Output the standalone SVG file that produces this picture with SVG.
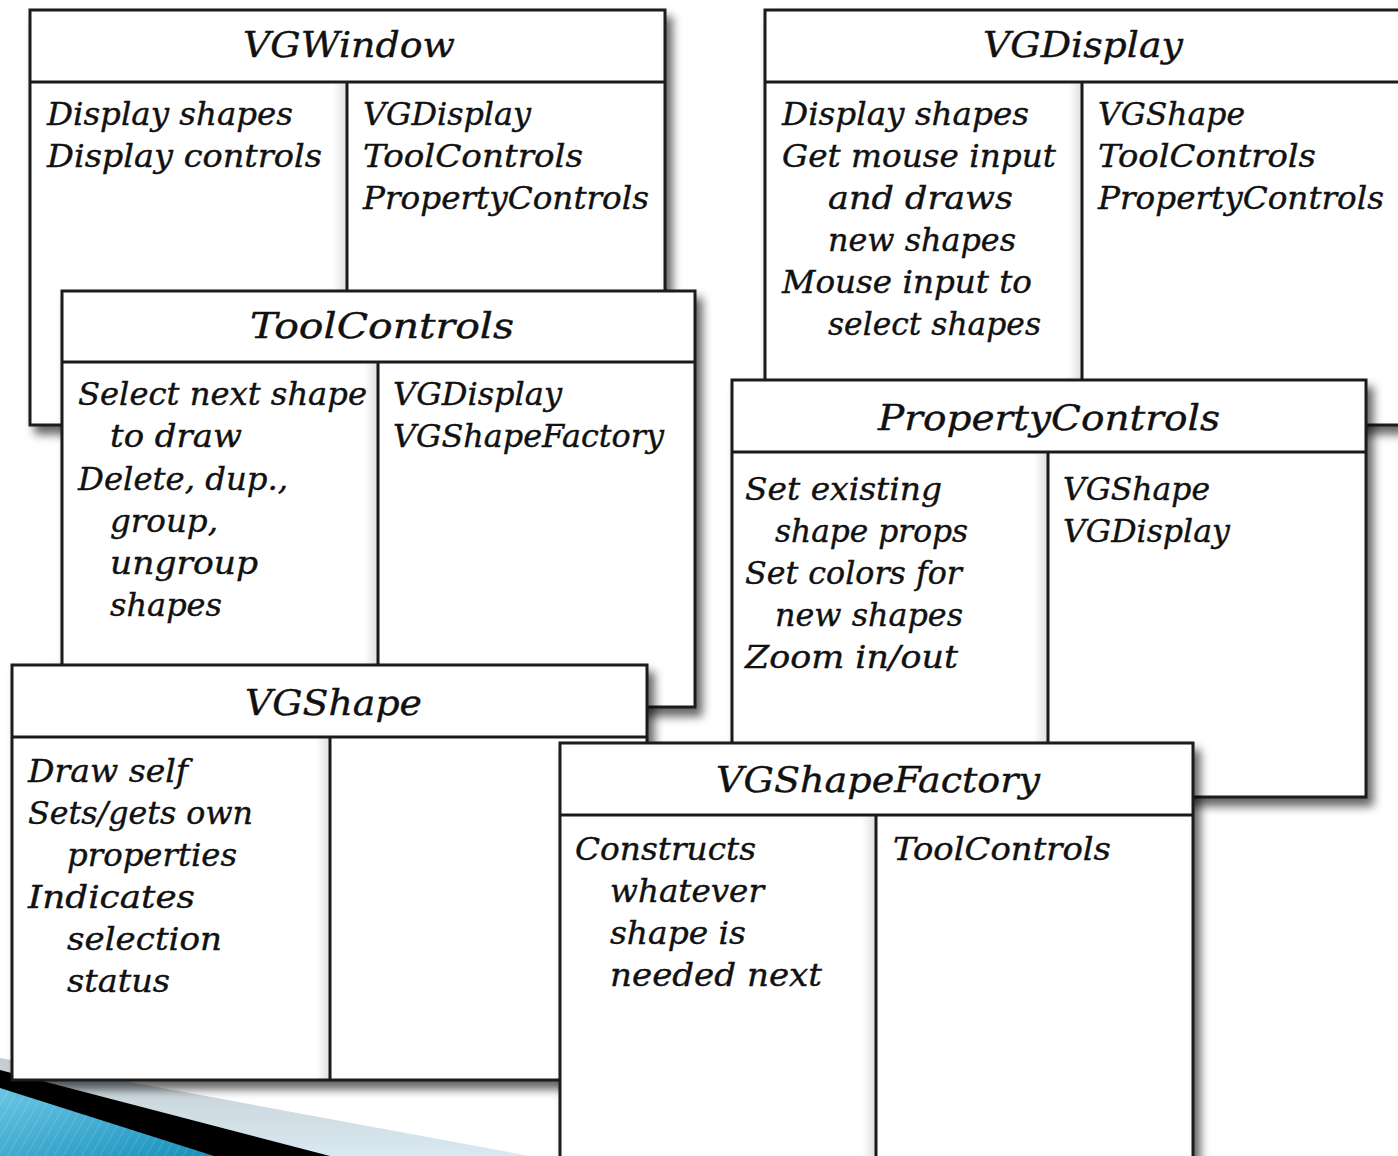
<svg xmlns="http://www.w3.org/2000/svg" width="1398" height="1156" viewBox="0 0 1398 1156">
<defs>
<filter id="sh" x="-5%" y="-5%" width="115%" height="115%">
<feDropShadow dx="6" dy="8" stdDeviation="5" flood-color="#000" flood-opacity="0.6"/>
</filter>
<linearGradient id="inner" x1="0" y1="0" x2="1" y2="0">
<stop offset="0" stop-color="#000" stop-opacity="0"/>
<stop offset="1" stop-color="#000" stop-opacity="0.13"/>
</linearGradient>
<linearGradient id="blue" x1="0" y1="0" x2="1" y2="1">
<stop offset="0" stop-color="#6cc6e4"/>
<stop offset="1" stop-color="#1690bb"/>
</linearGradient>
<linearGradient id="pale" x1="0" y1="0" x2="0" y2="1">
<stop offset="0" stop-color="#c3ccd1"/>
<stop offset="1" stop-color="#d9e9f1"/>
</linearGradient>
<pattern id="stripes" width="8" height="8" patternUnits="userSpaceOnUse" patternTransform="rotate(30)">
<line x1="0" y1="0" x2="0" y2="8" stroke="#ffffff" stroke-opacity="0.18" stroke-width="1.5"/>
</pattern>
<style>
.card{fill:#fff;stroke:#1a1a1a;stroke-width:3}
.ln{stroke:#1a1a1a;stroke-width:3}
.t{font-family:"DejaVu Serif","Liberation Serif",serif;font-style:italic;font-size:31px;fill:#111;stroke:#111;stroke-width:0.4}
.h{font-family:"DejaVu Serif","Liberation Serif",serif;font-style:italic;font-size:36px;fill:#111;stroke:#111;stroke-width:0.4}
</style>
</defs>
<rect width="1398" height="1156" fill="#fff"/>
<g id="decoration">
<polygon points="0,1058 530,1156 0,1156" fill="url(#pale)"/>
<polygon points="0,1070 330,1156 0,1156" fill="#000"/>
<polygon points="0,1088 214,1156 0,1156" fill="url(#blue)"/>
<polygon points="0,1088 214,1156 0,1156" fill="url(#stripes)"/>
</g>
<g id="connectors"/>
<g id="VGWindow">
<rect class="card" x="30" y="10" width="635" height="415" filter="url(#sh)"/>
<rect x="333" y="82" width="14" height="343" fill="url(#inner)"/>
<line class="ln" x1="30" y1="82" x2="665" y2="82"/>
<line class="ln" x1="347" y1="82" x2="347" y2="425"/>
<text class="h" x="243" y="57" textLength="212" lengthAdjust="spacingAndGlyphs">VGWindow</text>
<text class="t" x="47" y="125" textLength="246" lengthAdjust="spacingAndGlyphs">Display shapes</text>
<text class="t" x="47" y="167" textLength="275" lengthAdjust="spacingAndGlyphs">Display controls</text>
<text class="t" x="363" y="125" textLength="168" lengthAdjust="spacingAndGlyphs">VGDisplay</text>
<text class="t" x="363" y="167" textLength="220" lengthAdjust="spacingAndGlyphs">ToolControls</text>
<text class="t" x="363" y="209" textLength="286" lengthAdjust="spacingAndGlyphs">PropertyControls</text>
</g>
<g id="VGDisplay">
<rect class="card" x="765" y="10" width="650" height="415" filter="url(#sh)"/>
<rect x="1068" y="82" width="14" height="343" fill="url(#inner)"/>
<line class="ln" x1="765" y1="82" x2="1415" y2="82"/>
<line class="ln" x1="1082" y1="82" x2="1082" y2="425"/>
<text class="h" x="983" y="57" textLength="200" lengthAdjust="spacingAndGlyphs">VGDisplay</text>
<text class="t" x="782" y="125" textLength="247" lengthAdjust="spacingAndGlyphs">Display shapes</text>
<text class="t" x="782" y="167" textLength="274" lengthAdjust="spacingAndGlyphs">Get mouse input</text>
<text class="t" x="828" y="209" textLength="185" lengthAdjust="spacingAndGlyphs">and draws</text>
<text class="t" x="828" y="251" textLength="188" lengthAdjust="spacingAndGlyphs">new shapes</text>
<text class="t" x="782" y="293" textLength="250" lengthAdjust="spacingAndGlyphs">Mouse input to</text>
<text class="t" x="828" y="335" textLength="213" lengthAdjust="spacingAndGlyphs">select shapes</text>
<text class="t" x="1098" y="125" textLength="147" lengthAdjust="spacingAndGlyphs">VGShape</text>
<text class="t" x="1098" y="167" textLength="218" lengthAdjust="spacingAndGlyphs">ToolControls</text>
<text class="t" x="1098" y="209" textLength="286" lengthAdjust="spacingAndGlyphs">PropertyControls</text>
</g>
<g id="ToolControls">
<rect class="card" x="62" y="291" width="633" height="416" filter="url(#sh)"/>
<rect x="364" y="362" width="14" height="345" fill="url(#inner)"/>
<line class="ln" x1="62" y1="362" x2="695" y2="362"/>
<line class="ln" x1="378" y1="362" x2="378" y2="707"/>
<text class="h" x="250" y="338" textLength="264" lengthAdjust="spacingAndGlyphs">ToolControls</text>
<text class="t" x="78" y="405" textLength="289" lengthAdjust="spacingAndGlyphs">Select next shape</text>
<text class="t" x="110" y="447" textLength="132" lengthAdjust="spacingAndGlyphs">to draw</text>
<text class="t" x="78" y="490" textLength="210" lengthAdjust="spacingAndGlyphs">Delete, dup.,</text>
<text class="t" x="110" y="532" textLength="108" lengthAdjust="spacingAndGlyphs">group,</text>
<text class="t" x="110" y="574" textLength="148" lengthAdjust="spacingAndGlyphs">ungroup</text>
<text class="t" x="110" y="616" textLength="112" lengthAdjust="spacingAndGlyphs">shapes</text>
<text class="t" x="393" y="405" textLength="169" lengthAdjust="spacingAndGlyphs">VGDisplay</text>
<text class="t" x="393" y="447" textLength="271" lengthAdjust="spacingAndGlyphs">VGShapeFactory</text>
</g>
<g id="PropertyControls">
<rect class="card" x="732" y="380" width="634" height="417" filter="url(#sh)"/>
<rect x="1034" y="452" width="14" height="345" fill="url(#inner)"/>
<line class="ln" x1="732" y1="452" x2="1366" y2="452"/>
<line class="ln" x1="1048" y1="452" x2="1048" y2="797"/>
<text class="h" x="878" y="430" textLength="342" lengthAdjust="spacingAndGlyphs">PropertyControls</text>
<text class="t" x="745" y="500" textLength="197" lengthAdjust="spacingAndGlyphs">Set existing</text>
<text class="t" x="775" y="542" textLength="193" lengthAdjust="spacingAndGlyphs">shape props</text>
<text class="t" x="745" y="584" textLength="217" lengthAdjust="spacingAndGlyphs">Set colors for</text>
<text class="t" x="775" y="626" textLength="188" lengthAdjust="spacingAndGlyphs">new shapes</text>
<text class="t" x="745" y="668" textLength="213" lengthAdjust="spacingAndGlyphs">Zoom in/out</text>
<text class="t" x="1063" y="500" textLength="147" lengthAdjust="spacingAndGlyphs">VGShape</text>
<text class="t" x="1063" y="542" textLength="167" lengthAdjust="spacingAndGlyphs">VGDisplay</text>
</g>
<g id="VGShape">
<rect class="card" x="12" y="665" width="635" height="415" filter="url(#sh)"/>
<rect x="316" y="737" width="14" height="343" fill="url(#inner)"/>
<line class="ln" x1="12" y1="737" x2="647" y2="737"/>
<line class="ln" x1="330" y1="737" x2="330" y2="1080"/>
<text class="h" x="245" y="715" textLength="177" lengthAdjust="spacingAndGlyphs">VGShape</text>
<text class="t" x="28" y="782" textLength="160" lengthAdjust="spacingAndGlyphs">Draw self</text>
<text class="t" x="28" y="824" textLength="225" lengthAdjust="spacingAndGlyphs">Sets/gets own</text>
<text class="t" x="67" y="866" textLength="170" lengthAdjust="spacingAndGlyphs">properties</text>
<text class="t" x="28" y="908" textLength="167" lengthAdjust="spacingAndGlyphs">Indicates</text>
<text class="t" x="67" y="950" textLength="155" lengthAdjust="spacingAndGlyphs">selection</text>
<text class="t" x="67" y="992" textLength="103" lengthAdjust="spacingAndGlyphs">status</text>
</g>
<g id="VGShapeFactory">
<rect class="card" x="560" y="743" width="633" height="430" filter="url(#sh)"/>
<rect x="862" y="815" width="14" height="358" fill="url(#inner)"/>
<line class="ln" x1="560" y1="815" x2="1193" y2="815"/>
<line class="ln" x1="876" y1="815" x2="876" y2="1173"/>
<text class="h" x="716" y="792" textLength="324" lengthAdjust="spacingAndGlyphs">VGShapeFactory</text>
<text class="t" x="575" y="860" textLength="181" lengthAdjust="spacingAndGlyphs">Constructs</text>
<text class="t" x="610" y="902" textLength="154" lengthAdjust="spacingAndGlyphs">whatever</text>
<text class="t" x="610" y="944" textLength="136" lengthAdjust="spacingAndGlyphs">shape is</text>
<text class="t" x="610" y="986" textLength="212" lengthAdjust="spacingAndGlyphs">needed next</text>
<text class="t" x="893" y="860" textLength="218" lengthAdjust="spacingAndGlyphs">ToolControls</text>
</g>
</svg>
